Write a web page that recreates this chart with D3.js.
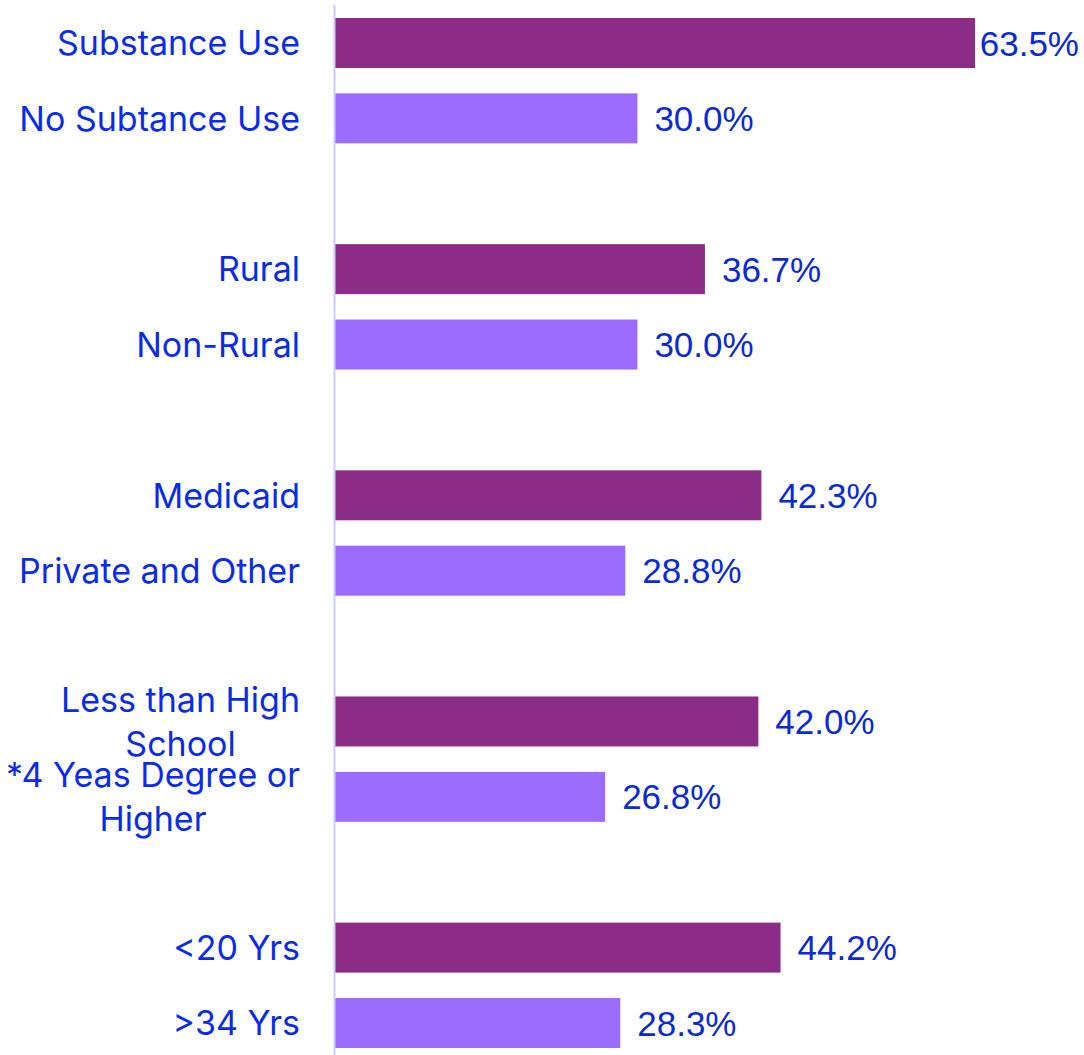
<!DOCTYPE html>
<html>
<head>
<meta charset="utf-8">
<script src="https://cdn.jsdelivr.net/npm/d3@7"></script>
<style>
  html, body { margin: 0; padding: 0; background: #ffffff; }
  svg { display: block; }
</style>
</head>
<body>
<svg id="chart" width="1084" height="1055"></svg>
<script>
// ---- data ----
const categories = [
  "Substance Use", "No Subtance Use",
  "Rural", "Non-Rural",
  "Medicaid", "Private and Other",
  "Less than High School", "*4 Yeas Degree or Higher",
  "<20 Yrs", ">34 Yrs"
];
const values = [63.5, 30.0, 36.7, 30.0, 42.3, 28.8, 42.0, 26.8, 44.2, 28.3];
const series = ["high", "low", "high", "low", "high", "low", "high", "low", "high", "low"];
const valueLabels = ["63.5%", "30.0%", "36.7%", "30.0%", "42.3%", "28.8%", "42.0%", "26.8%", "44.2%", "28.3%"];

// ---- layout ----
const W = 1084, H = 1055;
const axisX = 335;
const labelRight = 300;
const labelMaxWidth = 300;
const colors = { high: "#8b2d86", low: "#9b6cff" };
const catColor = "#0a2ce8";
const valColor = "#0a2ad2";

const svg = d3.select("#chart");

// slot keys: each pair followed by an empty spacer slot
const slotKeys = [];
categories.forEach((c, i) => {
  slotKeys.push("c" + i);
  if (i % 2 === 1 && i < categories.length - 1) slotKeys.push("gap" + i);
});

const y = d3.scaleBand()
  .domain(slotKeys)
  .range([5.3, 1060.7])
  .paddingInner(0.337)
  .paddingOuter(0.1685);

const x = d3.scaleLinear().domain([0, 70]).range([axisX, axisX + 705.6]);

const data = categories.map((c, i) => ({
  cat: c, value: values[i], s: series[i], label: valueLabels[i], key: "c" + i
}));

// bars
svg.append("g").selectAll("rect")
  .data(data)
  .join("rect")
  .attr("x", x(0))
  .attr("y", d => y(d.key))
  .attr("width", d => x(d.value) - x(0))
  .attr("height", y.bandwidth())
  .attr("fill", d => colors[d.s]);

// axis line
svg.append("line")
  .attr("x1", axisX - 0.5).attr("x2", axisX - 0.5)
  .attr("y1", 5).attr("y2", H)
  .attr("stroke", "#c9cdf6")
  .attr("stroke-width", 2);

// category labels with wrapping
const catG = svg.append("g")
  .attr("font-family", "Inter, 'Noto Sans', sans-serif")
  .attr("font-size", 34)
  .attr("fill", catColor);

data.forEach(d => {
  const t = catG.append("text").attr("text-anchor", "middle");
  const words = d.cat.split(" ");
  const lines = [];
  let cur = "";
  const probe = catG.append("text").attr("visibility", "hidden");
  words.forEach(w => {
    const test = cur ? cur + " " + w : w;
    probe.text(test);
    if (probe.node().getComputedTextLength() > labelMaxWidth && cur) {
      lines.push(cur);
      cur = w;
    } else {
      cur = test;
    }
  });
  if (cur) lines.push(cur);
  let maxW = 0;
  lines.forEach(l => { probe.text(l); maxW = Math.max(maxW, probe.node().getComputedTextLength()); });
  probe.remove();
  const lineH = 44;
  const cy = y(d.key) + y.bandwidth() / 2;
  const cx = labelRight - maxW / 2;
  lines.forEach((l, k) => {
    t.append("tspan")
      .attr("x", cx)
      .attr("y", cy + (k - (lines.length - 1) / 2) * lineH)
      .attr("dy", "0.36em")
      .text(l);
  });
});

// value labels
const valG = svg.append("g")
  .attr("font-family", "'Liberation Sans', Arial, sans-serif")
  .attr("font-size", 35)
  .attr("fill", valColor);

valG.selectAll("text")
  .data(data)
  .join("text")
  .attr("y", d => y(d.key) + y.bandwidth() / 2)
  .attr("dy", "0.36em")
  .text(d => d.label)
  .attr("x", function(d) {
    const w = this.getComputedTextLength();
    return Math.min(x(d.value) + 17, W - 5 - w);
  });
</script>
</body>
</html>
